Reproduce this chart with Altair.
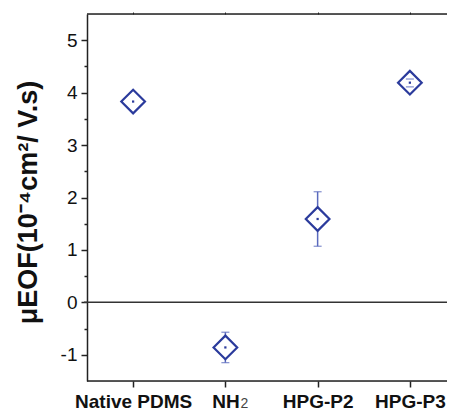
import altair as alt
import pandas as pd

categories = ["Native PDMS", "NH₂", "HPG-P2", "HPG-P3"]
means = [3.83, -0.86, 1.59, 4.19]
lower = [3.83, -1.15, 1.07, 4.11]
upper = [3.83, -0.57, 2.11, 4.26]
major_ticks = [-1, 0, 1, 2, 3, 4, 5]
minor_ticks = [-0.5, 0.5, 1.5, 2.5, 3.5, 4.5]
y_title = "μEOF(10⁻⁴cm²/ V.s)"
subscript_cat = ["NH₂"]
subscript_text = ["2"]

W, H = 360, 367
XR = 369      # x-scale extent (the frame continues past the visible edge)
XEND = 360    # where the frame lines stop, inside the page
MARK = "#2b3b9c"
ERR = "#5a6abd"
AX = "#222222"

df = pd.DataFrame({"cat": categories, "mean": means, "lo": lower, "hi": upper})
df_err = df[df["hi"] > df["lo"]]
zero_df = pd.DataFrame({"y": [0]})
sub_df = pd.DataFrame({"cat": subscript_cat, "t": subscript_text})

xscale = alt.Scale(type="point", domain=categories, padding=0.5, range=[0, XR])
yscale = alt.Scale(domain=[-1.5, 5.5], nice=False, zero=False)

bottom_axis = alt.Axis(
    orient="bottom", title=None, labelAngle=0, tickSize=6, tickWidth=1.5,
    labelFont="Liberation Sans", labelFontWeight="bold", labelFontSize=19,
    labelColor="#111", labelPadding=5, domain=False, tickColor=AX,
    labelExpr="datum.label == 'NH₂' ? 'NH' : datum.label",
)
top_axis = alt.Axis(
    orient="top", title=None, labels=False, tickSize=2, tickWidth=1,
    domain=False, tickColor=AX,
)
major_y = alt.Axis(
    orient="left",
    values=major_ticks, title=y_title, tickSize=6, tickWidth=1.5, grid=False,
    labelFont="Liberation Sans", labelFontSize=19, labelColor="#111", labelPadding=4,
    labelExpr="datum.value",
    domainWidth=1.5, domainColor=AX, tickColor=AX,
    titleFont="Liberation Sans", titleFontWeight="bold", titleFontSize=27,
    titleColor="#111", titleAngle=270, titleX=-59, titleY=188,
    titleAlign="center", titleBaseline="middle",
)
minor_y = alt.Axis(
    orient="left",
    values=minor_ticks, title=None, labels=False, tickSize=3, tickWidth=1.5,
    domain=False, grid=False, tickColor=AX,
)

frame_top = alt.Chart(zero_df).mark_rule(color=AX, strokeWidth=1.5).encode(
    x=alt.value(0), x2=alt.value(XEND), y=alt.value(0),
)
frame_bottom = alt.Chart(zero_df).mark_rule(color=AX, strokeWidth=1.5).encode(
    x=alt.value(0), x2=alt.value(XEND), y=alt.value(H),
)

err_rules = alt.Chart(df_err).mark_rule(color=ERR, strokeWidth=1.5).encode(
    x=alt.X("cat:N", scale=xscale, axis=bottom_axis, sort=categories),
    y=alt.Y("lo:Q", scale=yscale, axis=major_y),
    y2="hi:Q",
)

zero_rule = alt.Chart(zero_df).mark_rule(color="#333333", strokeWidth=1.5).encode(
    y=alt.Y("y:Q", scale=yscale, axis=minor_y),
    x=alt.value(-3),
    x2=alt.value(XEND),
)

diamonds = alt.Chart(df).mark_point(
    shape="diamond", size=560, filled=False, fill="white", fillOpacity=1,
    stroke=MARK, strokeWidth=2.2, opacity=1,
).encode(
    x=alt.X("cat:N", scale=xscale, axis=top_axis, sort=categories),
    y=alt.Y("mean:Q", scale=yscale, axis=None),
)

caps_lo = alt.Chart(df_err).mark_tick(color=ERR, size=8, thickness=1.3).encode(
    x=alt.X("cat:N", scale=xscale, axis=None, sort=categories),
    y=alt.Y("lo:Q", scale=yscale, axis=None),
)
caps_hi = alt.Chart(df_err).mark_tick(color=ERR, size=8, thickness=1.3).encode(
    x=alt.X("cat:N", scale=xscale, axis=None, sort=categories),
    y=alt.Y("hi:Q", scale=yscale, axis=None),
)

dots = alt.Chart(df).mark_point(
    shape="square", size=5, filled=True, color=MARK, opacity=1,
).encode(
    x=alt.X("cat:N", scale=xscale, axis=None, sort=categories),
    y=alt.Y("mean:Q", scale=yscale, axis=None),
)

sub_text = alt.Chart(sub_df).mark_text(
    font="Liberation Sans", fontSize=14, color="#444", align="left",
    baseline="alphabetic", dx=15,
).encode(
    x=alt.X("cat:N", scale=xscale, axis=None, sort=categories),
    y=alt.value(H + 27),
    text="t:N",
)

chart = alt.layer(
    frame_top, frame_bottom, err_rules, zero_rule, diamonds, caps_lo, caps_hi, dots, sub_text
).resolve_axis(
    x="independent", y="independent"
).properties(
    width=W, height=H,
    autosize=alt.AutoSizeParams(type="none"),
    padding={"left": 79, "top": 6, "right": 0, "bottom": 30},
).configure_view(strokeWidth=0).configure(background="white")

chart.save("out.html", embed_options={"renderer": "svg", "actions": False})
